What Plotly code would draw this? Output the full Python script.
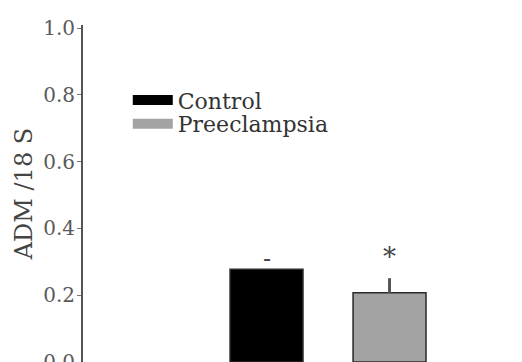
import plotly.graph_objects as go

groups = ["Control", "Preeclampsia"]
values = [0.278, 0.207]
errors = [0.0, 0.044]
marks = ["-", "*"]
bar_colors = ["#000000", "#a3a3a3"]
y_ticks = [0.0, 0.2, 0.4, 0.6, 0.8, 1.0]

FONT = "DejaVu Serif"
legend_ids = ["legend", "legend2"]
legend_y = [0.839, 0.769]

fig = go.Figure()
for g, v, e, c, lg in zip(groups, values, errors, bar_colors, legend_ids):
    fig.add_trace(go.Bar(
        x=[g], y=[v], name=g, showlegend=False,
        marker=dict(color=c, line=dict(color="#2a2a2a", width=1.5)),
        error_y=dict(type="data", array=[e], symmetric=False, arrayminus=[0],
                     color="#555555", thickness=3, width=0, visible=e > 0),
    ))
    # legend entry drawn as a wide swatch
    fig.add_trace(go.Scatter(
        x=[None], y=[None], name=g, mode="lines", legend=lg,
        line=dict(color=c, width=10),
    ))

for g, v, e, m in zip(groups, values, errors, marks):
    fig.add_annotation(x=g, y=v + e, text=m, showarrow=False,
                       yanchor="bottom", yshift=4 if m == "*" else -6,
                       font=dict(family=FONT, size=26 if m == "*" else 24, color="#444444"))

leg_common = dict(x=0.102, xanchor="left", yanchor="top", bgcolor="rgba(0,0,0,0)",
                  font=dict(family=FONT, size=22, color="#333333"), itemwidth=40)
fig.update_layout(
    width=522, height=362,
    margin=dict(l=75, r=8, t=17, b=8, autoexpand=False),
    paper_bgcolor="white", plot_bgcolor="white",
    barmode="overlay", bargap=0.407,
    font=dict(family=FONT, size=20, color="#444444"),
    legend=dict(y=legend_y[0], **leg_common),
    legend2=dict(y=legend_y[1], **leg_common),
    showlegend=True,
)
fig.update_xaxes(type="category", categoryorder="array", categoryarray=groups,
                 range=[-1.492, 2.077], showticklabels=False, ticks="",
                 showline=True, linecolor="#cccccc", linewidth=1, showgrid=False, zeroline=False,
                 automargin=False)
fig.update_yaxes(range=[0, 1.009], tickvals=y_ticks, tickformat=".1f",
                 ticks="outside", ticklen=4, tickcolor="#777777",
                 showline=True, linecolor="#555555", linewidth=2,
                 showgrid=False, zeroline=False, automargin=False,
                 ticklabelstandoff=-2, ticklabeloverflow="allow",
                 tickfont=dict(family=FONT, size=20, color="#5a5a5a"),
                 title=dict(text="ADM /18 S", font=dict(family=FONT, size=24, color="#444444"), standoff=4))

fig.write_html("out.html")
